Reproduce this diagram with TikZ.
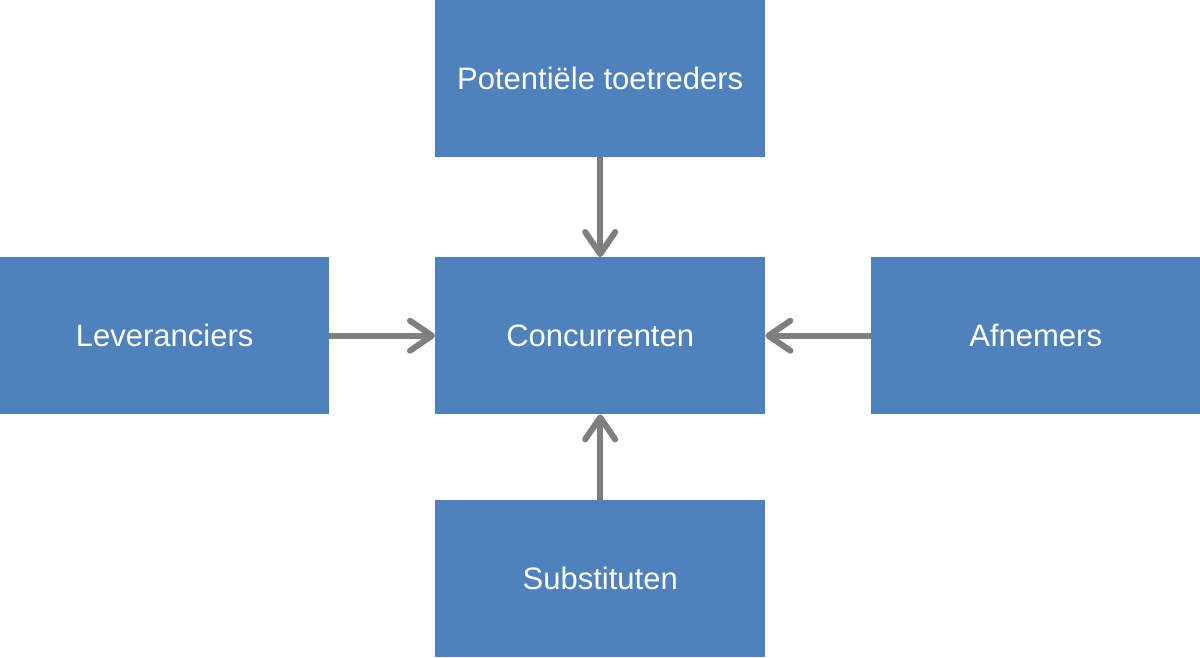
\documentclass[tikz,border=0pt]{standalone}
\usepackage{fontspec}
\setmainfont{Liberation Sans}
\usetikzlibrary{arrows.meta}
\definecolor{boxblue}{HTML}{4F81BD}
\definecolor{arrgray}{HTML}{7F7F7F}
\begin{document}
\begin{tikzpicture}[x=1pt,y=-1pt,
  blockbox/.style={fill=boxblue,draw=none,minimum width=330pt,minimum height=157pt,inner sep=0pt,text=white,font=\fontsize{31}{37}\selectfont,anchor=north west},
  conn/.style={draw=arrgray,line width=6pt,-{Straight Barb[length=22pt,width=30pt,round]}}]
\useasboundingbox (0,0) rectangle (1200,657);
\node[blockbox] (top) at (435,0) {Potentiële toetreders};
\node[blockbox] (mid) at (435,257) {Concurrenten};
\node[blockbox,minimum width=329pt] (left) at (0,257) {Leveranciers};
\node[blockbox,minimum width=329pt] (right) at (871,257) {Afnemers};
\node[blockbox] (bot) at (435,500) {Substituten};
\draw[conn] (top) -- (mid);
\draw[conn] (left) -- (mid);
\draw[conn] (right) -- (mid);
\draw[conn] (bot) -- (mid);
\end{tikzpicture}
\end{document}
